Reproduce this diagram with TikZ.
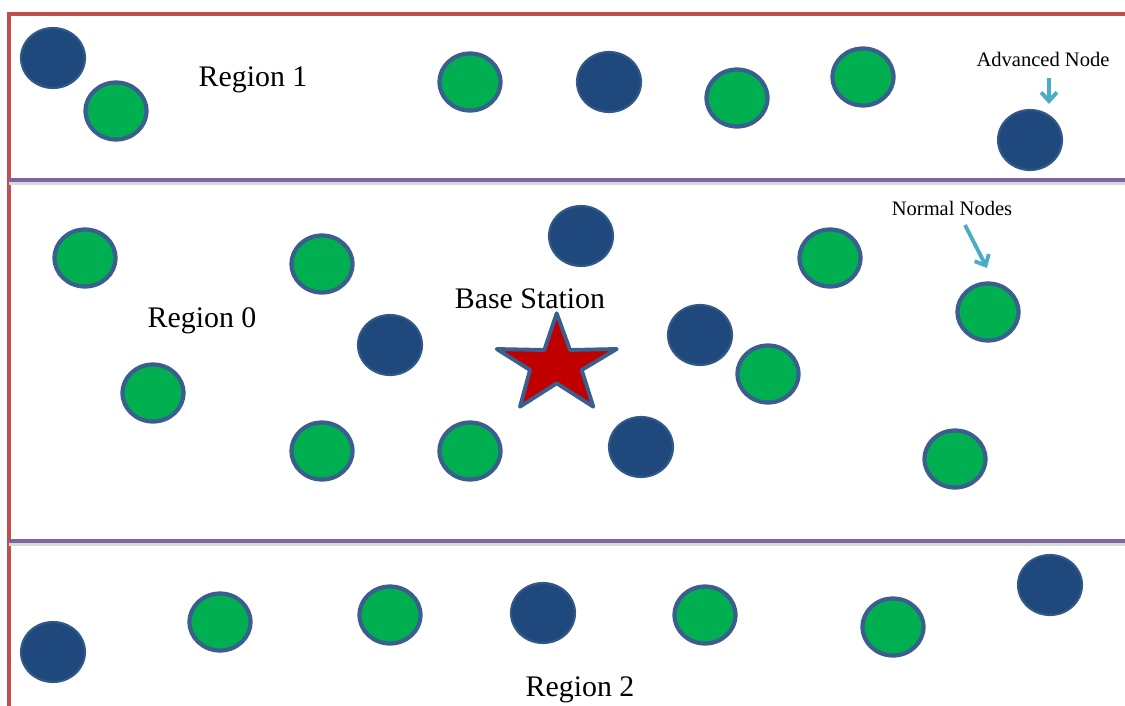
\documentclass[tikz,border=0pt]{standalone}
\usepackage{fontspec}
\setmainfont{Liberation Serif}
\usetikzlibrary{arrows.meta,shapes.geometric}
\definecolor{ngreen}{HTML}{00B050}
\definecolor{nblue}{HTML}{1F497D}
\definecolor{nline}{HTML}{3A5F8F}
\definecolor{bred}{HTML}{C0504D}
\definecolor{bpurple}{HTML}{8064A2}
\definecolor{acyan}{HTML}{4BACC6}
\definecolor{sred}{HTML}{C00000}
\newcommand{\pxu}{*0.02cm}
\tikzset{
  normal/.style={ellipse, draw=nline, line width=2.4pt, fill=ngreen, minimum width=61\pxu, minimum height=57\pxu, inner sep=0pt},
  adv/.style={ellipse, draw=nline!70!nblue, line width=1.2pt, fill=nblue, minimum width=64\pxu, minimum height=60\pxu, inner sep=0pt},
  big/.style={font=\fontsize{17}{20}\selectfont},
  small/.style={font=\fontsize{11.7}{14}\selectfont},
  pointer/.style={draw=acyan, line width=2.2pt, -{Straight Barb[length=5pt,width=9pt]}},
  divider/.style={draw=bpurple, line width=2.6pt},
}
\begin{document}
\begin{tikzpicture}[x=0.02cm,y=-0.02cm]
\useasboundingbox (0,0) rectangle (1125,706);
% frame
\draw[bred, line width=2pt] (9,706) -- (9,14) -- (1125,14);
\draw[black!15, line width=2pt] (9,183) -- (1125,183);
\draw[black!15, line width=2pt] (9,544) -- (1125,544);
\draw[divider] (9,180) -- (1125,180);
\draw[divider] (9,541) -- (1125,541);
% Region 1
\node[adv] (a1) at (53,58) {};
\node[normal] (g1) at (116,111) {};
\node[normal] (g2) at (470,82) {};
\node[adv] (a2) at (609,82) {};
\node[normal] (g3) at (737,98) {};
\node[normal] (g4) at (863,77) {};
\node[adv] (a3) at (1030,140) {};
% Region 0
\node[normal] (g5) at (85,258) {};
\node[normal] (g6) at (322,264) {};
\node[adv] (a4) at (581,236) {};
\node[normal] (g7) at (830,258) {};
\node[normal] (g8) at (988,312) {};
\node[adv] (a5) at (390,345) {};
\node[adv] (a6) at (700,335) {};
\node[normal] (g9) at (768,374) {};
\node[normal] (g10) at (153,393) {};
\node[normal] (g11) at (322,451) {};
\node[normal] (g12) at (470,451) {};
\node[adv] (a7) at (641,447) {};
\node[normal] (g13) at (955,459) {};
% Region 2
\node[adv] (a8) at (53,652) {};
\node[normal] (g14) at (220,622) {};
\node[normal] (g15) at (390,615) {};
\node[adv] (a9) at (543,613) {};
\node[normal] (g16) at (705,615) {};
\node[normal] (g17) at (893,627) {};
\node[adv] (a10) at (1050,585) {};
% base station star
\draw[nline, line width=2.2pt, fill=sred, line join=round]
  (556.7,313.3) -- (570,350) -- (616.7,349) -- (581.7,370) -- (593.3,406.7)
  -- (556.7,383.3) -- (520,406.7) -- (530,370) -- (496.7,349) -- (544.3,350) -- cycle;
% labels
\node[big] (r1) at (253,80) {Region 1};
\node[big] (r0) at (202,321) {Region 0};
\node[big] (r2) at (580,690) {Region 2};
\node[big] (bs) at (530,299) {Base Station};
\node[small] (an) at (1043,59) {Advanced Node};
\node[small] (nn) at (952,208) {Normal Nodes};
\coordinate (ap1) at (1049,78);
\coordinate (ap2) at (1049,104);
\coordinate (np1) at (965,225);
\coordinate (np2) at (987,268);
\draw[pointer] (ap1) -- (ap2);
\draw[pointer] (np1) -- (np2);
\end{tikzpicture}
\end{document}
